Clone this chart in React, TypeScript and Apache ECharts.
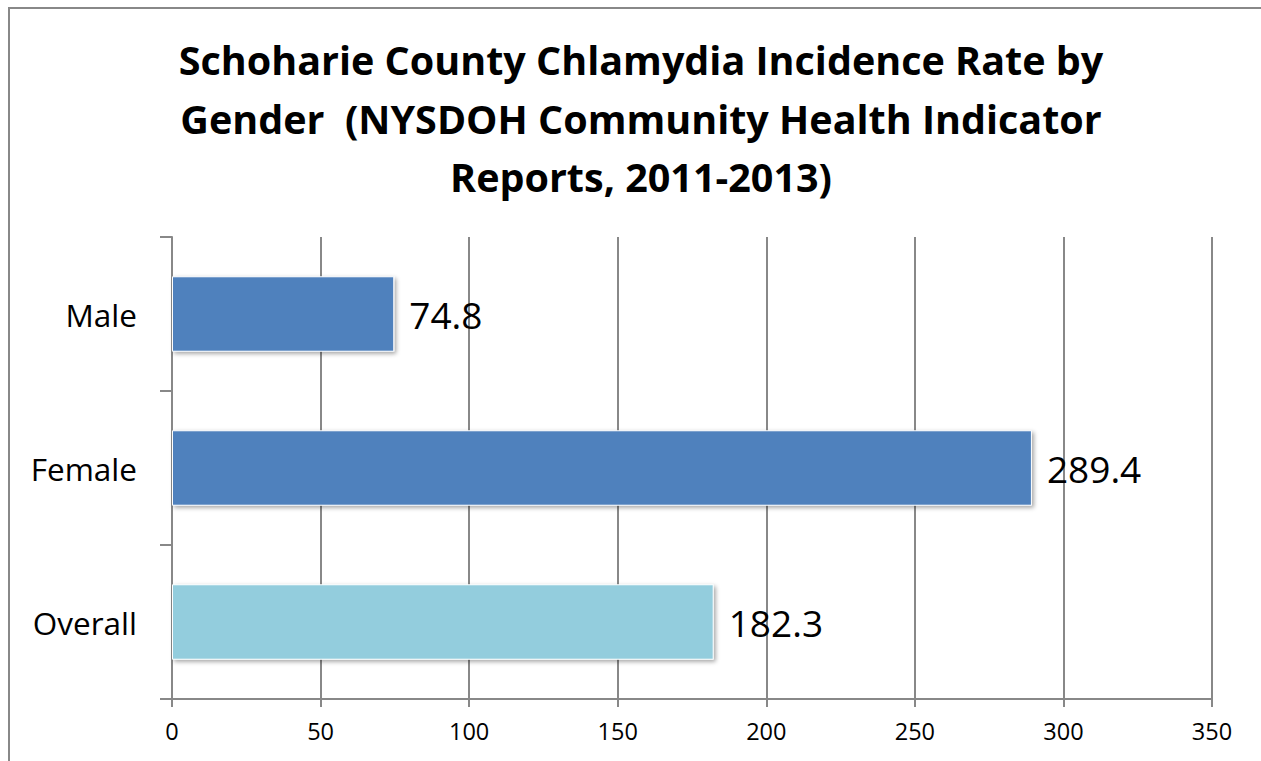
import React, { useEffect, useRef } from "react";
import * as echarts from "echarts";

const categories = ["Overall", "Female", "Male"];
const values = [182.3, 289.4, 74.8];
const barColors = ["#93CDDD", "#4F81BD", "#4F81BD"];
const titleText = "Schoharie County Chlamydia Incidence Rate by\nGender  (NYSDOH Community Health Indicator\nReports, 2011-2013)";

export default function App() {
  const ref = useRef<HTMLDivElement>(null);
  useEffect(() => {
    document.body.style.margin = "0";
    const chart = echarts.init(ref.current!, null, { renderer: "svg" });
    chart.setOption({
      animation: false,
      backgroundColor: "#ffffff",
      title: {
        text: titleText,
        left: 636,
        top: 26,
        textAlign: "center",
        textStyle: {
          fontFamily: "Open Sans",
          fontWeight: "bold",
          fontSize: 39.5,
          lineHeight: 58.5,
          color: "#000",
        },
      },
      graphic: [
        {
          type: "rect",
          shape: { x: 9, y: 8, width: 1300, height: 800 },
          style: { fill: "none", stroke: "#888", lineWidth: 2 },
          z: 100,
        },
      ],
      grid: { left: 172, right: 49, top: 237, bottom: 62 },
      xAxis: {
        type: "value",
        min: 0,
        max: 350,
        interval: 50,
        axisLine: { show: true, lineStyle: { color: "#888", width: 2 } },
        axisTick: { show: true, length: 8, lineStyle: { color: "#888", width: 2 } },
        splitLine: { show: true, lineStyle: { color: "#888", width: 2 } },
        axisLabel: { fontFamily: "Open Sans", fontSize: 23.5, color: "#000", margin: 20 },
      },
      yAxis: {
        type: "category",
        data: categories,
        axisLine: { show: true, lineStyle: { color: "#888", width: 2 } },
        axisTick: { show: true, length: 12, lineStyle: { color: "#888", width: 2 } },
        axisLabel: { fontFamily: "Open Sans", fontSize: 31.5, color: "#000", margin: 35 },
      },
      series: [
        {
          type: "bar",
          data: values.map((v, i) => ({ value: v, itemStyle: { color: barColors[i] } })),
          barWidth: "49%",
          itemStyle: {
            borderColor: "#ffffff",
            borderWidth: 1,
            shadowColor: "rgba(0,0,0,0.35)",
            shadowBlur: 4,
            shadowOffsetX: 2,
            shadowOffsetY: 2,
          },
          label: {
            show: true,
            position: "right",
            distance: 15,
            fontFamily: "Open Sans",
            fontSize: 37,
            color: "#000",
          },
        },
      ],
    });
    return () => chart.dispose();
  }, []);
  return <div ref={ref} style={{ width: 1261, height: 761 }} />;
}
